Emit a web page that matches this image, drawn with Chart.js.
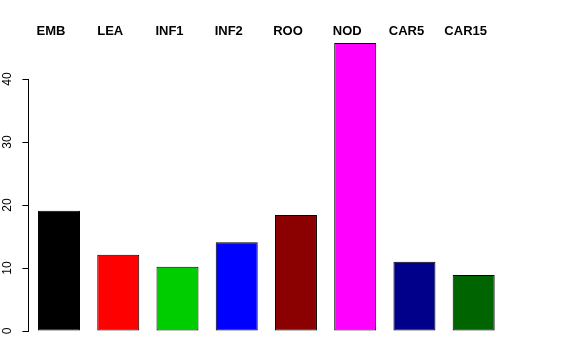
<!DOCTYPE html>
<html>
<head>
<meta charset="utf-8">
<script src="https://cdn.jsdelivr.net/npm/chart.js@4/dist/chart.umd.min.js"></script>
<style>
  html, body { margin: 0; padding: 0; background: #fff; }
  #wrap { width: 576px; height: 360px; }
</style>
</head>
<body>
<div id="wrap"><canvas id="myBarChart" width="576" height="360"></canvas></div>
<script>
const tissues = ["EMB", "LEA", "INF1", "INF2", "ROO", "NOD", "CAR5", "CAR15"];
const values = [19.1, 12.1, 10.2, 14.1, 18.4, 45.7, 11.0, 8.9];
const barColors = ["#000000", "#FF0000", "#00CD00", "#0000FF", "#8B0000", "#FF00FF", "#00008B", "#006400"];
const yTicks = [0, 10, 20, 30, 40];

// R-style axis: line only over the tick range, rotated labels, names on top
const rAxis = {
  id: 'rAxis',
  afterDraw(chart) {
    const ctx = chart.ctx;
    const y = chart.scales.y;
    const x = chart.scales.x;
    const ax = Math.round(chart.chartArea.left) - 0.5;
    ctx.save();
    ctx.strokeStyle = '#000';
    ctx.lineWidth = 1;
    ctx.beginPath();
    ctx.moveTo(ax, Math.round(y.getPixelForValue(yTicks[0])) + 0.5);
    ctx.lineTo(ax, Math.round(y.getPixelForValue(yTicks[yTicks.length - 1])) + 0.5);
    ctx.stroke();

    ctx.fillStyle = '#000';
    ctx.font = '12px "Liberation Sans", Arial, sans-serif';
    ctx.textAlign = 'center';
    ctx.textBaseline = 'alphabetic';
    yTicks.forEach(v => {
      ctx.save();
      ctx.translate(11, y.getPixelForValue(v));
      ctx.rotate(-Math.PI / 2);
      ctx.fillText(String(v), 0, 0);
      ctx.restore();
    });

    ctx.font = 'bold 13px "Liberation Sans", Arial, sans-serif';
    tissues.forEach((t, i) => {
      ctx.fillText(t, x.getPixelForValue(i) - 8, 35);
    });
    ctx.restore();
  }
};

const barData = {
  labels: tissues,
  datasets: [
    {
      data: values,
      backgroundColor: barColors,
      borderColor: "#000000",
      borderWidth: 1,
      borderSkipped: false,
      barPercentage: 0.709,
      categoryPercentage: 1
    }
  ]
};

const barConfig = {
  type: 'bar',
  data: barData,
  options: {
    responsive: false,
    animation: false,
    layout: {
      padding: { top: 31.75, right: 72.7, bottom: 29, left: 0 }
    },
    plugins: {
      legend: { display: false },
      tooltip: { enabled: false }
    },
    scales: {
      x: {
        display: false
      },
      y: {
        min: 0,
        max: 47.5,
        afterBuildTicks: (scale) => {
          scale.ticks = yTicks.map(v => ({ value: v }));
        },
        afterFit: (scale) => {
          scale.width = 29.4;
        },
        border: { display: false },
        grid: {
          drawOnChartArea: false,
          drawTicks: true,
          tickLength: 7,
          color: '#000',
          lineWidth: 1
        },
        ticks: { display: false }
      }
    }
  },
  plugins: [rAxis]
};

const myBarChart = new Chart(
  document.getElementById('myBarChart'),
  barConfig
);
</script>
</body>
</html>
